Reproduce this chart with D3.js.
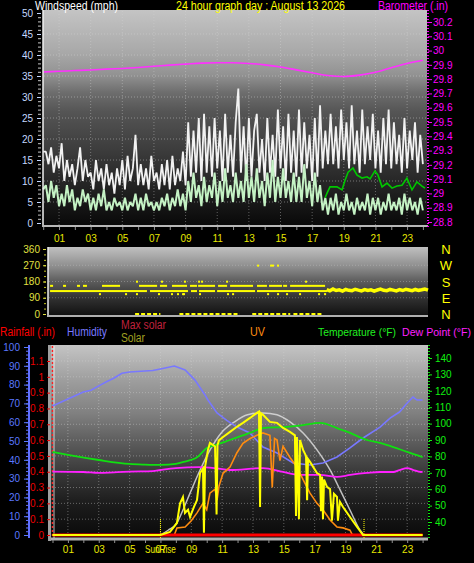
<!DOCTYPE html>
<html><head><meta charset="utf-8">
<script src="https://cdn.jsdelivr.net/npm/d3@7"></script>
<style>
html,body{margin:0;padding:0;background:#000;}
svg{display:block;}
text{font-family:"Liberation Sans",Arial,sans-serif;}
</style></head><body>
<svg id="c" width="474" height="563"></svg>
<script>
// ---------------- DATA ----------------
const titleText = "24 hour graph day : August 13 2026";
// wind (mph) sampled every 10 minutes, hour 0..24
const windGust = [
17,17,14,18,12,16, 13,19,10,15,11,14, 9,13,18,10,15,11, 12,8,15,10,13,8,
14,9,12,7,13,9, 15,8,16,10,13,21, 9,14,9,13,8,16, 10,12,8,14,9,15,
8,16,9,13,10,17, 9,24,11,22,12,25, 10,26,12,23,11,25, 13,22,10,26,12,21,
11,24,32,12,23,10, 25,11,22,26,12,20, 10,25,12,21,11,27, 13,23,10,26,12,22,
11,27,12,24,13,21, 10,25,11,28,13,22, 14,26,14,23,13,27, 15,24,13,28,14,22,
12,27,14,23,15,26, 13,22,12,25,14,27, 13,24,14,21,12,25, 13,22,15,24,12,21, 14];
const windAvg = [
8,9,5,10,6,9, 4,7,4,9,5,8, 3,6,4,8,5,7, 3,6,3,7,4,8,
3,5,3,6,4,5, 3,6,3,5,4,7, 3,6,3,7,4,5, 3,5,3,6,4,7,
3,6,4,8,4,7, 3,10,5,12,6,9, 4,11,5,9,6,12, 4,10,5,13,6,9,
5,12,6,10,5,14, 6,11,5,13,6,10, 4,12,6,15,5,11, 6,13,6,10,5,12,
5,11,5,14,6,10, 4,12,5,9,3,6, 2,6,3,7,2,5, 3,7,3,5,2,6,
3,5,3,7,2,6, 3,6,2,5,3,7, 3,5,3,6,2,7, 3,6,3,5,2,6, 3];
const windLineHours = [17.82,17.94,18.13,18.57,18.89,19.08,19.27,19.58,19.84,20.15,20.47,20.66,20.97,21.16,21.42,21.73,22.05,22.36,22.68,22.99,23.31,23.62,23.94,24.13];
const windLineVals  = [6,7.1,8.6,8.6,7.9,10.2,12.1,13.1,11.4,10.7,11,10.5,12.4,11.4,8.6,9.5,8.3,8.8,9.0,10.7,7.9,9.8,8.8,8.3];
// barometer (in) hourly 0..24
const baro = [29.85,29.855,29.86,29.864,29.87,29.875,29.882,29.89,29.898,29.905,29.912,29.915,29.915,29.91,29.9,29.885,29.865,29.845,29.825,29.818,29.828,29.848,29.88,29.91,29.932];

// wind direction (deg)
const dirMainDeg = 127;
const dirMainSegs = [[0.13,6.25],[6.44,8.84],[9.03,9.41],[9.54,10.55],[10.68,13.08],[13.2,17.62]];
const dir155Deg = 156;
const dir155Segs = [[0.13,0.32],[0.95,1.14],[1.83,2.02],[2.21,2.46],[3.41,4.55],[5.75,6.89],[7.07,7.52],[7.83,8.78],[8.97,9.41],[9.48,10.55],[10.74,11.31],[11.5,12.95],[13.2,13.83],[13.96,14.78],[14.85,15.1],[15.29,17.5]];
const dirZeroSegs = [[5.5,7.1],[8.3,10.1],[10.2,12.1],[12.9,15.3],[15.5,17.3]];
const dirDotHours = [5.62,7.2,8.65,9.54,9.73,11.31,16.3, 3.28,4.93,5.62,7.01,7.83,8.21,8.53,8.59,9.6,11.37,11.69,13.9,14.53,15.1,15.92,17.12,17.5, 13.27,14.09,14.21,14.53];
const dirDotDegs  = [179,179,179,179,179,179,179, 110,110,110,110,110,110,110,110,110,110,110,110,110,110,110,110,110, 268,268,268,268];
const dirLateStart = 17.6, dirLateStep = 0.2;
const dirLate = [135,128,138,130,134,127,136,131,129,137,132,128,135,130,134,127,133,138,131,129,136,132,128,135,130,137,133,129,136,131,134,138,132];
const compass = ["N","W","S","E","N"];
const compassDeg = [360,270,180,90,0];

// bottom panel
const humHours = [0,1,2,2.5,3,3.5,4,4.5,5,6,6.5,7,7.9,8.6,9.24,9.89,10.08,10.67,11.3,11.96,12.8,13.65,14.56,15.6,16.7,17.54,18.45,19.29,20.14,21.24,21.89,22.5,23,23.38,23.64,24];
const humVals  = [68.6,72.3,76.1,77,79.3,81.5,83.5,86,86.7,87.2,87.5,88.3,89.9,87.8,82.4,74.5,71.8,64.9,61,57.4,54.3,46.8,43.6,38.3,37.2,38.3,41.5,46.3,51.6,57.4,62.2,65.4,70.2,73.4,71.8,71.8];
const tempHours = [0,1,3,5,6,7,8,8.5,9.4,10,10.6,11.5,12.8,13.65,14.95,16.25,17.35,18.45,19.3,20.4,21.24,22.1,23,24];
const tempVals  = [82.7,80.9,77.8,75.4,75,74.8,75.5,76.6,79.6,85.1,87,90,94.3,97.3,97.9,99.1,100.4,97.3,94.3,90,88.2,85.7,82.7,79.6];
const dewHours = [0,2,3,4,5,6.5,7,8,9.5,10.5,11.5,13.65,14.95,16,17.35,18.45,19.3,20.4,21.24,22.1,22.5,23,23.4,23.9,24];
const dewVals  = [70.7,70.5,69.9,70.3,70.7,71,71.7,72.9,73.5,72.9,71.7,72.9,70.5,68.7,68.7,67.5,68.7,69.9,70.5,70.5,71.7,72.9,71.7,70.5,70.7];
const maxSolarHours = [7.0,7.5,8.07,8.46,8.92,9.57,10.22,10.94,11.8,12.65,13.65,14.56,15.4,16.25,17.15,18.0,18.65,19.29,19.94,20.2];
const maxSolarVals  = [0,30,76,158,265,411,538,645,715,760,772,760,715,645,538,411,285,158,32,0];
const solarHours = [0,7.0,7.62,8.07,8.27,8.46,8.59,8.79,8.92,9.18,9.37,9.57,9.76,9.82,9.89,10.08,10.21,10.54,10.64,10.7,10.8,11.06,11.51,11.96,12.35,12.81,13.26,13.39,13.46,13.52,13.65,14.1,14.56,14.95,15.4,15.72,15.79,15.85,15.98,16.05,16.25,16.44,16.51,16.57,16.7,17.15,17.35,17.41,17.48,17.54,17.61,17.8,18.0,18.12,18.25,18.45,18.51,18.64,18.84,19.29,19.75,20.14,24];
const solarVals  = [0,0,19,76,200,240,139,160,114,180,221,392,420,15,430,538,582,560,130,570,600,620,652,684,709,740,772,780,177,770,760,715,709,677,652,630,120,620,100,600,538,500,220,480,462,392,380,150,370,100,350,304,290,90,260,240,90,210,177,114,51,0,0];
const uvHours = [0,7.9,8.07,8.6,9.0,9.37,9.76,10.0,10.21,10.54,10.67,10.8,11.06,11.51,11.96,12.35,12.81,13.26,13.65,14.1,14.25,14.4,14.56,14.75,14.95,15.4,15.85,16.25,16.7,17.15,17.54,18.0,18.45,18.84,19.29,19.45,24];
const uvVals  = [0,0,0.45,0.5,0.9,1.4,2.0,1.6,2.65,2.9,2.2,3.1,3.9,4.3,5.2,5.8,6.1,6.3,6.45,6.3,3.0,6.1,6.0,4.7,5.6,4.9,4.3,3.5,2.65,2.0,1.6,0.95,0.5,0.45,0.3,0,0];
const rainHours = [0,24];
const rainVals = [0,0];
const sunriseHour = 7.0, sunsetHour = 20.2;

// ---------------- DRAW ----------------
const svg = d3.select("#c");
svg.append("rect").attr("width",474).attr("height",563).attr("fill","#000");
const defs = svg.append("defs");
function grad(id, stops){
  const g = defs.append("linearGradient").attr("id",id).attr("x1",0).attr("y1",0).attr("x2",0).attr("y2",1);
  stops.forEach(s=>g.append("stop").attr("offset",s[0]).attr("stop-color",s[1]));
}
grad("gTop",[[0,"#c4c4c4"],[0.2,"#a8a8a8"],[0.3,"#929292"],[0.38,"#6e6e6e"],[0.47,"#555"],[0.65,"#3c3c3c"],[0.77,"#2a2a2a"],[0.88,"#1a1a1a"],[1,"#080808"]]);
grad("gMid",[[0,"#c0c0c0"],[0.3,"#8a8a8a"],[0.5,"#5c5c5c"],[0.75,"#303030"],[1,"#101010"]]);
grad("gBot",[[0,"#c4c4c4"],[0.18,"#9e9e9e"],[0.35,"#808080"],[0.5,"#5c5c5c"],[0.65,"#3a3a3a"],[0.8,"#1e1e1e"],[1,"#080808"]]);

function styleAxis(g,color,size){
  g.select(".domain").remove();
  g.selectAll("line").attr("stroke",color);
  g.selectAll("text").attr("fill",color).style("font-size",(size||10)+"px").style("font-family","'Liberation Sans',Arial,sans-serif");
}
const fmtTrim = d => String(+d.toFixed(1));
const fmtHour = d => (d%2===1) ? (d<10?"0"+d:""+d) : "";
function label(x,y,t,c,w,size,anchor){
  const el = svg.append("text").attr("x",x).attr("y",y).attr("fill",c).style("font-size",(size||12)+"px").text(t);
  if(anchor) el.attr("text-anchor",anchor);
  if(w) el.attr("textLength",w).attr("lengthAdjust","spacingAndGlyphs");
  return el;
}

// ===== TOP PANEL =====
const xTop = d3.scaleLinear().domain([0,24]).range([43.2,422.9]);
const yWind = d3.scaleLinear().domain([0,50]).range([223,13]);
const yBaro = d3.scaleLinear().domain([28.8,30.2]).range([222,22]);
const topG = svg.append("g");
topG.append("rect").attr("x",43).attr("y",10).attr("width",384).attr("height",216).attr("fill","url(#gTop)");
topG.selectAll(".hg").data(d3.range(5,50,5)).enter().append("line")
  .attr("x1",44).attr("x2",427).attr("y1",d=>yWind(d)).attr("y2",d=>yWind(d))
  .attr("stroke","#d8d8d8").attr("stroke-opacity",0.45).attr("stroke-dasharray","1,2");
topG.selectAll(".vg").data(d3.range(1,24,2)).enter().append("line")
  .attr("x1",d=>xTop(d)).attr("x2",d=>xTop(d)).attr("y1",11).attr("y2",225)
  .attr("stroke","#d8d8d8").attr("stroke-opacity",0.4).attr("stroke-dasharray","1,2");
const tIdx = (d,i)=>xTop(i/6);
topG.append("path").datum(windGust).attr("fill","none").attr("stroke","#f2f2f2").attr("stroke-width",1.8)
  .attr("stroke-linejoin","bevel").attr("d",d3.line().x(tIdx).y(d=>yWind(d)));
topG.append("path").datum(windAvg).attr("fill","none").attr("stroke","#c4f2c4").attr("stroke-width",2)
  .attr("stroke-linejoin","bevel").attr("d",d3.line().x(tIdx).y(d=>yWind(d)));
topG.append("path").datum(windLineVals).attr("fill","none").attr("stroke","#00c800").attr("stroke-width",1.6)
  .attr("d",d3.line().x((d,i)=>xTop(windLineHours[i])).y(d=>yWind(d)));
topG.append("path").datum(baro).attr("fill","none").attr("stroke","#ff30ff").attr("stroke-width",1.6)
  .attr("d",d3.line().curve(d3.curveMonotoneX).x((d,i)=>xTop(i)).y(d=>yBaro(d)));
topG.append("line").attr("x1",43).attr("x2",43).attr("y1",10).attr("y2",227).attr("stroke","#f0f0f0").attr("stroke-width",1.5);
topG.append("line").attr("x1",43).attr("x2",428).attr("y1",226).attr("y2",226).attr("stroke","#b8b8b8").attr("stroke-width",2);
const gWl = svg.append("g").attr("transform","translate(41,0)")
  .call(d3.axisLeft(yWind).tickValues(d3.range(0,51,1)).tickSize(3).tickFormat(""));
styleAxis(gWl,"#c8c8c8");
const gW = svg.append("g").attr("transform","translate(41,0)")
  .call(d3.axisLeft(yWind).tickValues(d3.range(0,51,5)).tickSize(4).tickPadding(4));
styleAxis(gW,"#c4d8ff");
svg.append("line").attr("x1",428).attr("x2",428).attr("y1",10).attr("y2",227).attr("stroke","#ff00ff").attr("stroke-width",2).attr("stroke-dasharray","1,2");
const gB = svg.append("g").attr("transform","translate(428,0)")
  .call(d3.axisRight(yBaro).tickValues(d3.range(28.8,30.21,0.1).map(v=>+v.toFixed(1))).tickSize(4).tickPadding(1).tickFormat(fmtTrim));
styleAxis(gB,"#ff00ff");
const gXt = svg.append("g").attr("transform","translate(0,227)")
  .call(d3.axisBottom(xTop).tickValues(d3.range(0,25,1)).tickSize(3).tickPadding(5).tickFormat(fmtHour));
styleAxis(gXt,"#e8e800");
gXt.selectAll("line").attr("stroke","#909090");
label(35,10,"Windspeed (mph)","#ffffff",83,12.5);
label(176,10,titleText,"#ffff00",169,12.5);
label(378,10,"Barometer (.in)","#ff00ff",70,12.5);

// ===== MIDDLE PANEL =====
const xMid = d3.scaleLinear().domain([0,24]).range([48,428]);
const yDir = d3.scaleLinear().domain([0,360]).range([314,249]);
const midG = svg.append("g");
midG.append("rect").attr("x",48).attr("y",247).attr("width",380).attr("height",69).attr("fill","url(#gMid)");
midG.selectAll(".hg").data([90,180,270]).enter().append("line")
  .attr("x1",49).attr("x2",428).attr("y1",d=>yDir(d)).attr("y2",d=>yDir(d))
  .attr("stroke","#d0d0d0").attr("stroke-opacity",0.35).attr("stroke-dasharray","1,2");
midG.append("line").attr("x1",48).attr("x2",48).attr("y1",247).attr("y2",317).attr("stroke","#f0f0f0").attr("stroke-width",1.5);
midG.append("line").attr("x1",48).attr("x2",428).attr("y1",316).attr("y2",316).attr("stroke","#b0b0b0").attr("stroke-width",2);
const Y = "#ffff00";
midG.selectAll(".dm").data(dirMainSegs).enter().append("rect")
  .attr("x",d=>xMid(d[0])).attr("width",d=>xMid(d[1])-xMid(d[0])).attr("y",yDir(dirMainDeg)-1).attr("height",2).attr("fill",Y);
midG.selectAll(".d155").data(dir155Segs).enter().append("rect")
  .attr("x",d=>xMid(d[0])).attr("width",d=>Math.max(2,xMid(d[1])-xMid(d[0]))).attr("y",yDir(dir155Deg)-1).attr("height",2).attr("fill",Y);
midG.selectAll(".d0").data(dirZeroSegs).enter().append("line")
  .attr("x1",d=>xMid(d[0])).attr("x2",d=>xMid(d[1])).attr("y1",yDir(0)).attr("y2",yDir(0))
  .attr("stroke",Y).attr("stroke-width",2).attr("stroke-dasharray","4,2");
midG.selectAll(".dd").data(dirDotHours).enter().append("rect")
  .attr("x",d=>xMid(d)-1).attr("y",(d,i)=>yDir(dirDotDegs[i])-1).attr("width",2).attr("height",2).attr("fill",Y);
midG.append("path").datum(dirLate).attr("fill","none").attr("stroke",Y).attr("stroke-width",3.5)
  .attr("d",d3.line().x((d,i)=>xMid(dirLateStart+i*dirLateStep)).y(d=>yDir(d)));
const gDm = svg.append("g").attr("transform","translate(46,0)")
  .call(d3.axisLeft(yDir).tickValues(d3.range(0,361,30)).tickSize(2).tickFormat(""));
styleAxis(gDm,"#c8c820");
const gD = svg.append("g").attr("transform","translate(46,0)")
  .call(d3.axisLeft(yDir).tickValues([0,90,180,270,360]).tickSize(3).tickPadding(3));
styleAxis(gD,"#e0e040");
svg.selectAll(".cp").data(compass).enter().append("text")
  .attr("x",446).attr("y",(d,i)=>yDir(compassDeg[i])+5).attr("text-anchor","middle")
  .attr("fill","#ffff00").style("font-size","13px").text(d=>d);

// ===== BOTTOM PANEL =====
const xBot = d3.scaleLinear().domain([0,24]).range([52.5,422.6]);
const yRain = d3.scaleLinear().domain([0,1.1]).range([535,361]);
const yHum = d3.scaleLinear().domain([0,100]).range([535,347]);
const yTemp = d3.scaleLinear().domain([40,140]).range([522,358]);
const ySolar = d3.scaleLinear().domain([0,1100]).range([535,361]);
const yUV = d3.scaleLinear().domain([0,11]).range([535,361]);
const botG = svg.append("g");
botG.append("rect").attr("x",50).attr("y",345).attr("width",378).attr("height",195).attr("fill","url(#gBot)");
botG.selectAll(".hg").data(d3.range(1,12,1).map(v=>v/10)).enter().append("line")
  .attr("x1",52).attr("x2",428).attr("y1",d=>yRain(d)).attr("y2",d=>yRain(d))
  .attr("stroke","#d8d8d8").attr("stroke-opacity",0.4).attr("stroke-dasharray","1,2");
botG.selectAll(".vg").data(d3.range(1,24,2)).enter().append("line")
  .attr("x1",d=>xBot(d)).attr("x2",d=>xBot(d)).attr("y1",346).attr("y2",538)
  .attr("stroke","#d8d8d8").attr("stroke-opacity",0.4).attr("stroke-dasharray","1,2");
botG.append("line").attr("x1",50).attr("x2",428).attr("y1",539).attr("y2",539).attr("stroke","#b0b0b0").attr("stroke-width",3);
botG.append("line").attr("x1",49.5).attr("x2",49.5).attr("y1",345).attr("y2",541).attr("stroke","#a0a0a0").attr("stroke-width",3);
botG.append("line").attr("x1",52.5).attr("x2",52.5).attr("y1",346).attr("y2",538).attr("stroke","#ff2020").attr("stroke-width",1.5).attr("stroke-dasharray","2,2");
botG.append("line").attr("x1",54).attr("x2",54).attr("y1",346).attr("y2",538).attr("stroke","#ffffff").attr("stroke-opacity",0.7).attr("stroke-width",1);
[sunriseHour,sunsetHour].forEach(h=>{
  botG.append("line").attr("x1",xBot(h)).attr("x2",xBot(h)).attr("y1",519).attr("y2",538)
    .attr("stroke","#ffff00").attr("stroke-width",1).attr("stroke-dasharray","1,1");
});
const lineH = (hs,sc,curve)=>d3.line().curve(curve||d3.curveLinear).x((d,i)=>xBot(hs[i])).y(d=>sc(d));
botG.append("path").datum(maxSolarVals).attr("fill","none").attr("stroke","#dcdcdc").attr("stroke-opacity",0.85).attr("stroke-width",1.5)
  .attr("d",lineH(maxSolarHours,ySolar,d3.curveMonotoneX));
botG.append("path").datum(humVals).attr("fill","none").attr("stroke","#7878ff").attr("stroke-width",1.6)
  .attr("d",lineH(humHours,yHum));
botG.append("path").datum(tempVals).attr("fill","none").attr("stroke","#10e010").attr("stroke-width",1.8)
  .attr("d",lineH(tempHours,yTemp,d3.curveMonotoneX));
botG.append("path").datum(dewVals).attr("fill","none").attr("stroke","#ff20ff").attr("stroke-width",1.8)
  .attr("d",lineH(dewHours,yTemp,d3.curveMonotoneX));
botG.append("path").datum(uvVals).attr("fill","none").attr("stroke","#ff8c10").attr("stroke-width",1.6)
  .attr("d",lineH(uvHours,yUV));
botG.append("path").datum(rainVals).attr("fill","none").attr("stroke","#ff0000").attr("stroke-width",3)
  .attr("d",lineH(rainHours,yRain));
botG.append("path").datum(solarVals).attr("fill","none").attr("stroke","#ffff00").attr("stroke-width",2)
  .attr("d",lineH(solarHours,ySolar));
const gHm = svg.append("g").attr("transform","translate(29,0)")
  .call(d3.axisLeft(yHum).tickValues(d3.range(0,101,2)).tickSize(3).tickFormat(""));
styleAxis(gHm,"#6070ff");
const gH = svg.append("g").attr("transform","translate(29,0)")
  .call(d3.axisLeft(yHum).tickValues(d3.range(0,101,10)).tickSize(5).tickPadding(4));
styleAxis(gH,"#5a78ff");
svg.append("line").attr("x1",29).attr("x2",29).attr("y1",345).attr("y2",538).attr("stroke","#6070ff").attr("stroke-width",2);
const gR = svg.append("g").attr("transform","translate(50,0)")
  .call(d3.axisLeft(yRain).tickValues(d3.range(0,12,1).map(v=>v/10)).tickSize(3).tickPadding(3).tickFormat(fmtTrim));
styleAxis(gR,"#ee0000");
svg.append("line").attr("x1",429).attr("x2",429).attr("y1",345).attr("y2",540).attr("stroke","#10e010").attr("stroke-width",2).attr("stroke-dasharray","1,2");
const gT = svg.append("g").attr("transform","translate(429,0)")
  .call(d3.axisRight(yTemp).tickValues(d3.range(40,141,10)).tickSize(3).tickPadding(3));
styleAxis(gT,"#10f010");
const gXb = svg.append("g").attr("transform","translate(0,540)")
  .call(d3.axisBottom(xBot).tickValues(d3.range(0,25,1)).tickSize(3).tickPadding(3).tickFormat(fmtHour));
styleAxis(gXb,"#e8e800");
gXb.selectAll("line").attr("stroke","#909090");
// "07" sits under the SunRise marker label, as in the original
label(xBot(sunriseHour),553,"SunRise","#e8e800",31,10,"middle");
label(0,336,"Rainfall (.in)","#ff0000",55,12);
label(67,336,"Humidity","#7878ff",40,12);
label(121,329,"Max solar","#c0203c",45,12);
label(121,342,"Solar","#a0a020",24,12);
label(250,336,"UV","#ff8c10",15,12);
label(318,336,"Temperature (°F)","#20f020",78,11.5);
label(402,336,"Dew Point (°F)","#ff20ff",69,10.8);
</script>
</body></html>
